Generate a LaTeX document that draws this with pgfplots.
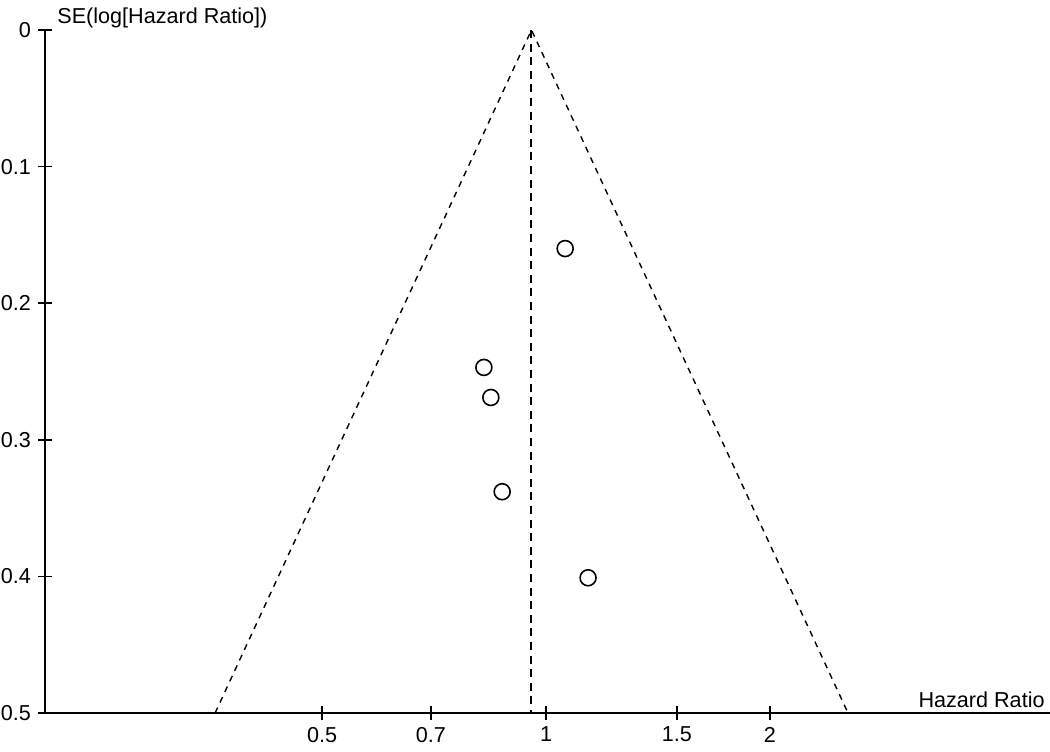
\documentclass[border=0pt]{standalone}
\usepackage{fontspec}
\setmainfont{Liberation Sans}
\usepackage{pgfplots}
\pgfplotsset{compat=1.18}
\begin{document}
\begin{tikzpicture}[font=\fontsize{10.8}{13}\selectfont]
\begin{axis}[
  at={(0,0)}, anchor=south west,
  scale only axis, width=502.5pt, height=341.5pt,
  xmode=log, xmin=0.212, xmax=4.76,
  ymin=0, ymax=0.5, y dir=reverse,
  axis x line=bottom, axis y line=left,
  axis line style={-, line width=1pt, black},
  tick align=center, major tick length=7pt,
  tick style={black, line width=0.8pt},
  xtick={0.5,0.7,1,1.5,2}, xticklabels={0.5,0.7,1,1.5,2},
  ytick={0,0.1,0.2,0.3,0.4,0.5}, yticklabels={0,0.1,0.2,0.3,0.4,0.5},
  minor tick num=0, log ticks with fixed point,
  clip=false,
]
% funnel (pseudo 95% limits) and pooled estimate
\addplot[black, line width=0.7pt, dash pattern=on 3pt off 2.8pt] coordinates {(0.359,0.5) (0.956,0) (2.547,0.5)};
\addplot[black, line width=1pt, dash pattern=on 4pt off 2.8pt] coordinates {(0.956,0) (0.956,0.5)};
% studies
\addplot[only marks, mark=o, mark size=4pt, mark options={line width=0.8pt, black}] coordinates {
  (1.061,0.160) (0.825,0.247) (0.843,0.269) (0.873,0.338) (1.139,0.401)
};
\node[anchor=base east, inner sep=0pt, xshift=-2.5pt, yshift=3pt] at (axis cs:4.76,0.5) {Hazard Ratio};
\node[anchor=base west, inner sep=0pt, xshift=6pt, yshift=3.5pt] at (axis cs:0.212,0) {SE(log[Hazard Ratio])};
\end{axis}
\pgfresetboundingbox
\useasboundingbox (-22.5pt,-19pt) rectangle (502.5pt,356.5pt);
\end{tikzpicture}
\end{document}
